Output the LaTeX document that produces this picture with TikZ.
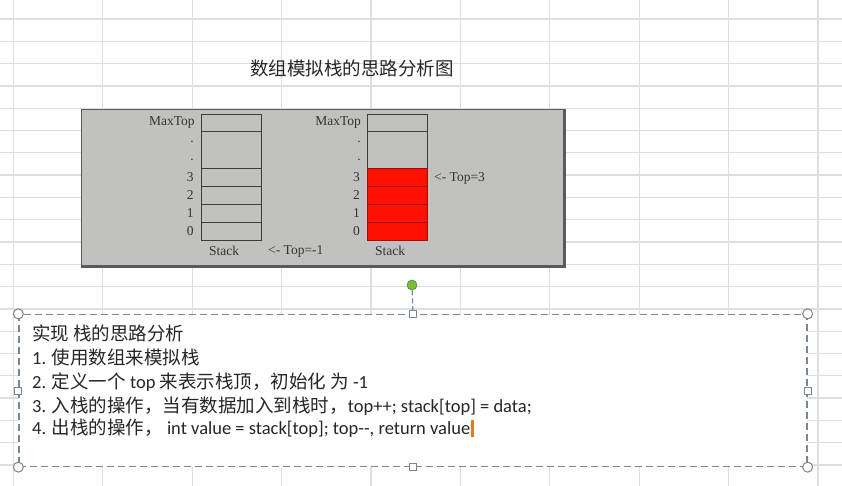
\documentclass[tikz,border=0pt]{standalone}
\usepackage{fontspec}
\setmainfont{Carlito}
\newfontfamily\cjk{Noto Sans CJK SC}
\newfontfamily\stackserif{Liberation Serif}
\definecolor{gridc}{RGB}{222,222,222}
\definecolor{panelc}{RGB}{193,194,191}
\definecolor{paneledge}{RGB}{90,90,90}
\definecolor{cellc}{RGB}{60,60,60}
\definecolor{redc}{RGB}{255,16,0}
\definecolor{redegde}{RGB}{150,20,10}
\definecolor{boxedge}{RGB}{120,135,150}
\definecolor{handlec}{RGB}{130,130,130}
\definecolor{greenc}{RGB}{120,190,60}
\definecolor{cursorc}{RGB}{235,120,30}
\tikzset{
  gridline/.style={draw=gridc, line width=1.3pt},
  cell/.style={rectangle, draw=cellc, line width=0.9pt, inner sep=0, minimum width=60pt},
  redcell/.style={cell, fill=redc, draw=redegde},
  lbl/.style={font=\stackserif\fontsize{13.5}{15}\selectfont, inner sep=0, text=black!80},
  txt/.style={anchor=west, inner sep=0, font=\fontsize{18.5}{21}\selectfont, text=black!85},
  corner/.style={circle, draw=handlec, fill=white, line width=1pt, minimum size=10pt, inner sep=0},
  sqhandle/.style={rectangle, draw=boxedge, fill=white, line width=1pt, minimum size=7pt, inner sep=0},
}
\begin{document}
\begin{tikzpicture}[x=1pt,y=-1pt]
\useasboundingbox (0,0) rectangle (842,486);
\fill[white] (0,0) rectangle (842,486);
% spreadsheet grid
\foreach \gx in {13.4,102.8,192.2,281.6,371,460.4,549.8,639.2,728.6,818} {
  \draw[gridline] (\gx,0) -- (\gx,486);
}
\foreach \gi in {0,...,20} {
  \draw[gridline] (0,19+22.3*\gi) -- (842,19+22.3*\gi);
}
% title
\node (title) at (352,68) [inner sep=0, font=\cjk\fontsize{18.5}{20}\selectfont, text=black!85] {数组模拟栈的思路分析图};
% gray panel
\node (panel) at (323,188) [rectangle, minimum width=484pt, minimum height=158pt, inner sep=0, fill=panelc, draw=paneledge, line width=0.8pt] {};
\draw[paneledge, line width=2pt] ([xshift=-1pt]panel.north east) -- ([xshift=-1pt,yshift=1pt]panel.south east) -- ([yshift=1pt]panel.south west);
% left stack
\node (lmax) at (231.3,123) [cell, minimum height=17.4pt] {};
\node (ldot) at (231.3,150) [cell, minimum height=36.6pt] {};
\node (l3) at (231.3,177.3) [cell, minimum height=18pt] {};
\node (l2) at (231.3,195.3) [cell, minimum height=18pt] {};
\node (l1) at (231.3,213.3) [cell, minimum height=18pt] {};
\node (l0) at (231.3,231.5) [cell, minimum height=18.4pt] {};
\node[lbl, anchor=east] (lmaxl) at ([xshift=-6pt]lmax.west) {MaxTop};
\node[lbl, anchor=east] (ld1) at (194,142) {.};
\node[lbl, anchor=east] (ld2) at (194,160) {.};
\node[lbl, anchor=east] (l3l) at ([xshift=-7pt]l3.west) {3};
\node[lbl, anchor=east] (l2l) at ([xshift=-7pt]l2.west) {2};
\node[lbl, anchor=east] (l1l) at ([xshift=-7pt]l1.west) {1};
\node[lbl, anchor=east] (l0l) at ([xshift=-7pt]l0.west) {0};
\node[lbl] (lstack) at (224,251) {Stack};
\node[lbl, anchor=west] (ltop) at (268,251) {<- Top=-1};
% right stack
\node (rmax) at (397.5,123) [cell, minimum height=17.4pt] {};
\node (rdot) at (397.5,150) [cell, minimum height=36.6pt] {};
\node (r3) at (397.5,177.3) [redcell, minimum height=18pt] {};
\node (r2) at (397.5,195.3) [redcell, minimum height=18pt] {};
\node (r1) at (397.5,213.3) [redcell, minimum height=18pt] {};
\node (r0) at (397.5,231.5) [redcell, minimum height=18.4pt] {};
\node[lbl, anchor=east] (rmaxl) at ([xshift=-6pt]rmax.west) {MaxTop};
\node[lbl, anchor=east] (rd1) at (361,142) {.};
\node[lbl, anchor=east] (rd2) at (361,160) {.};
\node[lbl, anchor=east] (r3l) at ([xshift=-7pt]r3.west) {3};
\node[lbl, anchor=east] (r2l) at ([xshift=-7pt]r2.west) {2};
\node[lbl, anchor=east] (r1l) at ([xshift=-7pt]r1.west) {1};
\node[lbl, anchor=east] (r0l) at ([xshift=-7pt]r0.west) {0};
\node[lbl] (rstack) at (390,251) {Stack};
\node[lbl, anchor=west] (rtop) at (434,178) {<- Top=3};
% text box
\node (tbox) at (413,390.5) [rectangle, minimum width=788pt, minimum height=152pt, inner sep=0, fill=white, draw=boxedge, line width=1.3pt, dash pattern=on 7pt off 4pt] {};
\node[corner] (cnw) at (tbox.north west) {};
\node[corner] (cne) at (tbox.north east) {};
\node[corner] (csw) at (tbox.south west) {};
\node[corner] (cse) at (tbox.south east) {};
\node[sqhandle] (hn) at (tbox.north) {};
\node[sqhandle] (hs) at (tbox.south) {};
\node[sqhandle] (hw) at (tbox.west) {};
\node[sqhandle] (he) at (tbox.east) {};
\node (rot) at (412,285) [circle, fill=greenc, draw=greenc!70!black, line width=0.6pt, minimum size=10pt, inner sep=0] {};
\draw[boxedge, line width=1.2pt, dash pattern=on 5pt off 3pt] (rot) -- (hn);
% text lines
\node[txt] (t1) at (32,333) {{\cjk 实现 栈的思路分析}};
\node[txt] (t2) at (32,357) {1. {\cjk 使用数组来模拟栈}};
\node[txt] (t3) at (32,382) {2. {\cjk 定义一个} top {\cjk 来表示栈顶，初始化 为} -1};
\node[txt] (t4) at (32,406) {3. {\cjk 入栈的操作，当有数据加入到栈时，}top++; stack[top] = data;};
\node[txt] (t5) at (32,428) {4. {\cjk 出栈的操作，} int value = stack[top]; top-{}-, return value};
\fill[cursorc] ([xshift=1pt]t5.east |- 0,420) rectangle ([xshift=3.5pt]t5.east |- 0,437);
\end{tikzpicture}
\end{document}
